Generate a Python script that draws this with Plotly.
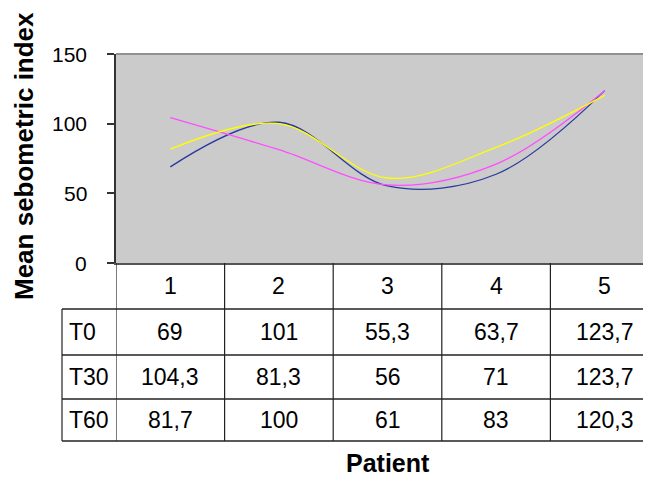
import plotly.graph_objects as go

patients = [1, 2, 3, 4, 5]
patient_labels = ["1", "2", "3", "4", "5"]
series_names = ["T0", "T30", "T60"]
t0 = [69, 101, 55.3, 63.7, 123.7]
t30 = [104.3, 81.3, 56, 71, 123.7]
t60 = [81.7, 100, 61, 83, 120.3]
y_ticks = [0, 50, 100, 150]

series = [t0, t30, t60]
colors = ["#2a3a9e", "#ff4dff", "#ffff00"]

FONT = "Liberation Sans, Arial, sans-serif"

fig = go.Figure()
for name, vals, col in zip(series_names, series, colors):
    fig.add_trace(go.Scatter(
        x=patients, y=vals, name=name, mode="lines",
        line=dict(color=col, width=1.3, shape="spline", smoothing=1.0),
        showlegend=False, hoverinfo="skip",
    ))

# page body adds an 8px offset; window pixel coordinates are converted below
OFF = 8
W, H = 651, 477
plot_left, plot_top, plot_bottom = 116, 54, 263  # window px
L = plot_left - OFF
T = plot_top - OFF
B = H - (plot_bottom - OFF)
R = 0
ph = H - T - B
pw = W - L - R

def py(pix):
    return (plot_bottom - pix) / ph

def pxd(pix):
    return (pix - plot_left) / pw

row_lines = [309, 355, 399, 441]
row_centers = [332, 377, 420]
header_center = 286
label_left = 62

shapes = []
line_style = dict(color="#222222", width=1.2)
for k in range(len(patients) + 1):
    shapes.append(dict(type="line", xref="x", yref="paper", layer="above",
                       x0=0.5 + k, x1=0.5 + k, y0=0, y1=py(row_lines[-1]),
                       line=line_style))
shapes.append(dict(type="line", xref="paper", yref="paper", layer="above",
                   x0=pxd(label_left), x1=pxd(label_left),
                   y0=py(row_lines[0]), y1=py(row_lines[-1]), line=line_style))
for r in row_lines:
    shapes.append(dict(type="line", xref="paper", yref="paper", layer="above",
                       x0=pxd(label_left), x1=1.02, y0=py(r), y1=py(r),
                       line=dict(color="#222222", width=1.4)))
shapes.append(dict(type="line", xref="paper", yref="paper", x0=0, x1=1, y0=1, y1=1,
                   line=dict(color="#909090", width=2)))

def txt(**kw):
    d = dict(showarrow=False, xanchor="center", yanchor="middle")
    d.update(kw)
    return d

annotations = []
for v in y_ticks:
    annotations.append(txt(x=pxd(89), y=v, xref="paper", yref="y", text=str(v),
                           xanchor="right",
                           font=dict(size=21, color="black", family=FONT)))
for p, lab in zip(patients, patient_labels):
    annotations.append(txt(x=p, y=py(header_center), xref="x", yref="paper", text=lab,
                           font=dict(size=23, color="black", family=FONT)))

def fmt(v):
    return ("%g" % v).replace(".", ",")

for name, vals, yc in zip(series_names, series, row_centers):
    annotations.append(txt(x=pxd(67), y=py(yc), xref="paper", yref="paper", text=name,
                           xanchor="left",
                           font=dict(size=23, color="black", family=FONT)))
    for p, v in zip(patients, vals):
        annotations.append(txt(x=p, y=py(yc), xref="x", yref="paper", text=fmt(v),
                               font=dict(size=23, color="black", family=FONT)))

annotations.append(txt(x=pxd(388), y=py(463), xref="paper", yref="paper",
                       text="<b>Patient</b>",
                       font=dict(size=25, color="black", family=FONT)))
annotations.append(txt(x=pxd(24), y=py(156), xref="paper", yref="paper",
                       text="<b>Mean sebometric index</b>", textangle=-90,
                       font=dict(size=26, color="black", family=FONT)))

fig.update_layout(
    width=W, height=H,
    margin=dict(l=L, r=R, t=T, b=B, pad=0),
    paper_bgcolor="white",
    plot_bgcolor="#cbcbcb",
    shapes=shapes,
    annotations=annotations,
    xaxis=dict(range=[0.5, 5.5], showticklabels=False, ticks="", showgrid=False,
               zeroline=False, showline=True, linecolor="#555555", linewidth=2,
               fixedrange=True),
    yaxis=dict(range=[0, 150], tickvals=y_ticks, showticklabels=False,
               showgrid=False, zeroline=False,
               showline=True, linecolor="#333333", linewidth=1.5,
               ticks="outside", ticklen=7, tickcolor="#333333", tickwidth=1.5,
               fixedrange=True),
    showlegend=False,
)

fig.write_html("out.html")
